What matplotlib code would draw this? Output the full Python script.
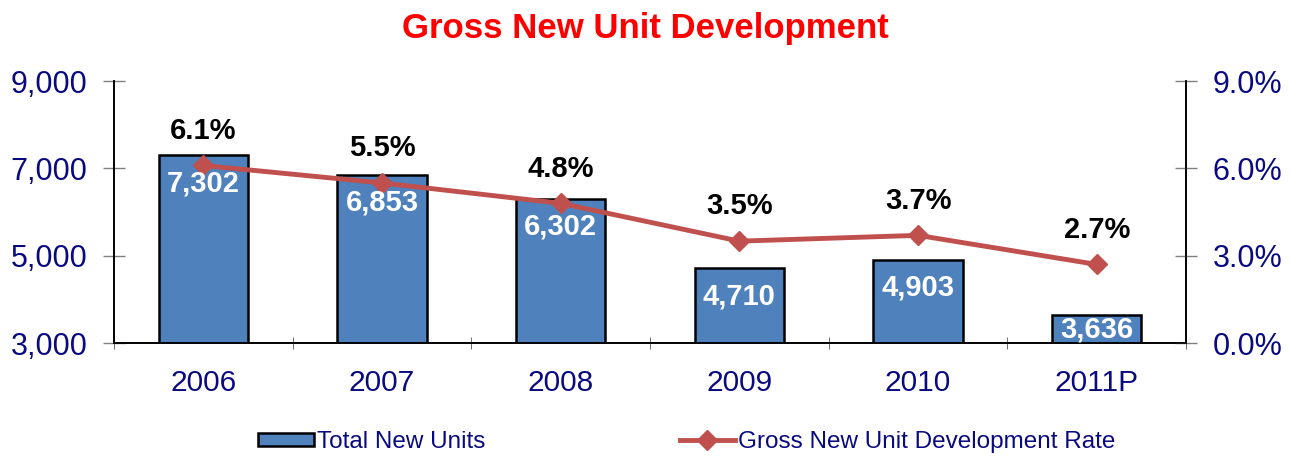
import matplotlib
matplotlib.use("Agg")
import matplotlib.pyplot as plt
from matplotlib.ticker import FuncFormatter, FixedLocator
from matplotlib import font_manager

categories = ["2006", "2007", "2008", "2009", "2010", "2011P"]
total_units = [7302, 6853, 6302, 4710, 4903, 3636]
dev_rate = [6.1, 5.5, 4.8, 3.5, 3.7, 2.7]
left_ticks = [3000, 5000, 7000, 9000]
right_ticks = [0.0, 3.0, 6.0, 9.0]

names = {f.name for f in font_manager.fontManager.ttflist}
base = "Liberation Sans"
narrow = "Liberation Sans Narrow" if "Liberation Sans Narrow" in names else base
plt.rcParams["font.family"] = [base, "DejaVu Sans"]

NAVY = "#0A0A80"
BAR = "#4F81BD"
LINE = "#C0504D"

fig = plt.figure(figsize=(12.91, 4.58), dpi=100)
ax = fig.add_axes([0.0883, 0.251, 0.8304, 0.572])
ax2 = ax.twinx()

x = list(range(len(categories)))
ax.bar(x, total_units, width=0.5, color=BAR, edgecolor="black", linewidth=1.8, zorder=2,
       label="Total New Units")
ax.set_xlim(-0.5, len(categories) - 0.5)
ax.set_ylim(left_ticks[0], left_ticks[-1])
ax.yaxis.set_major_locator(FixedLocator(left_ticks))
ax.yaxis.set_major_formatter(FuncFormatter(lambda v, p: f"{int(v):,}"))
ax.set_xticks(x)
ax.set_xticklabels(categories)
ax.set_xticks([i + 0.5 for i in range(-1, len(categories))], minor=True)
ax.tick_params(axis="x", which="major", length=0, labelsize=21.5, pad=19)
ax.tick_params(axis="x", which="minor", length=8, direction="inout", color="#555555")
ax.tick_params(axis="y", labelsize=22, colors="#808080", direction="inout", length=16, width=1,
               labelcolor=NAVY, pad=11)
for lab in ax.get_xticklabels():
    lab.set_color(NAVY)

ax2.set_ylim(right_ticks[0], right_ticks[-1])
ax2.yaxis.set_major_locator(FixedLocator(right_ticks))
ax2.yaxis.set_major_formatter(FuncFormatter(lambda v, p: f"{v:.1f}%"))
ax2.tick_params(axis="y", labelsize=22, colors="#808080", direction="inout", length=16, width=1,
                labelcolor=NAVY, pad=11)
ax2.plot(x, dev_rate, color=LINE, linewidth=3.5, marker="D", markersize=10, zorder=3,
         label="Gross New Unit Development Rate")

for a in (ax, ax2):
    a.spines["top"].set_visible(False)
    for s in ("left", "right", "bottom"):
        a.spines[s].set_color("black")
        a.spines[s].set_linewidth(1.2)
    a.patch.set_visible(False)

ax.set_zorder(1)
ax2.set_zorder(2)

ymin, ymax = left_ticks[0], left_ticks[-1]
rmax = right_ticks[-1]
for xi, v in zip(x, total_units):
    ly = max(v - 641, (ymin + v) / 2)
    ax2.text(xi, (ly - ymin) / (ymax - ymin) * rmax, f"{v:,}", color="white", fontsize=21,
             fontweight="bold", ha="center", va="center", zorder=5)

for xi, r in zip(x, dev_rate):
    ax2.annotate(f"{r:.1f}%", (xi, r), xytext=(0, 25), textcoords="offset points",
                 ha="center", va="center", fontsize=21, fontweight="bold", color="black", zorder=5)

fig.text(0.5, 0.938, "Gross New Unit Development", color="#FF0000", fontsize=25,
         fontweight="bold", ha="center", va="center")

h1, l1 = ax.get_legend_handles_labels()
h2, l2 = ax2.get_legend_handles_labels()
leg = fig.legend(h1 + h2, l1 + l2, loc="center", bbox_to_anchor=(0.532, 0.035), ncol=2,
                 frameon=False, columnspacing=8.0, handlelength=2.3, handleheight=0.45,
                 handletextpad=0.1, prop={"family": narrow, "size": 17.5})
for t in leg.get_texts():
    t.set_color(NAVY)

fig.savefig("out.png", dpi=100)
